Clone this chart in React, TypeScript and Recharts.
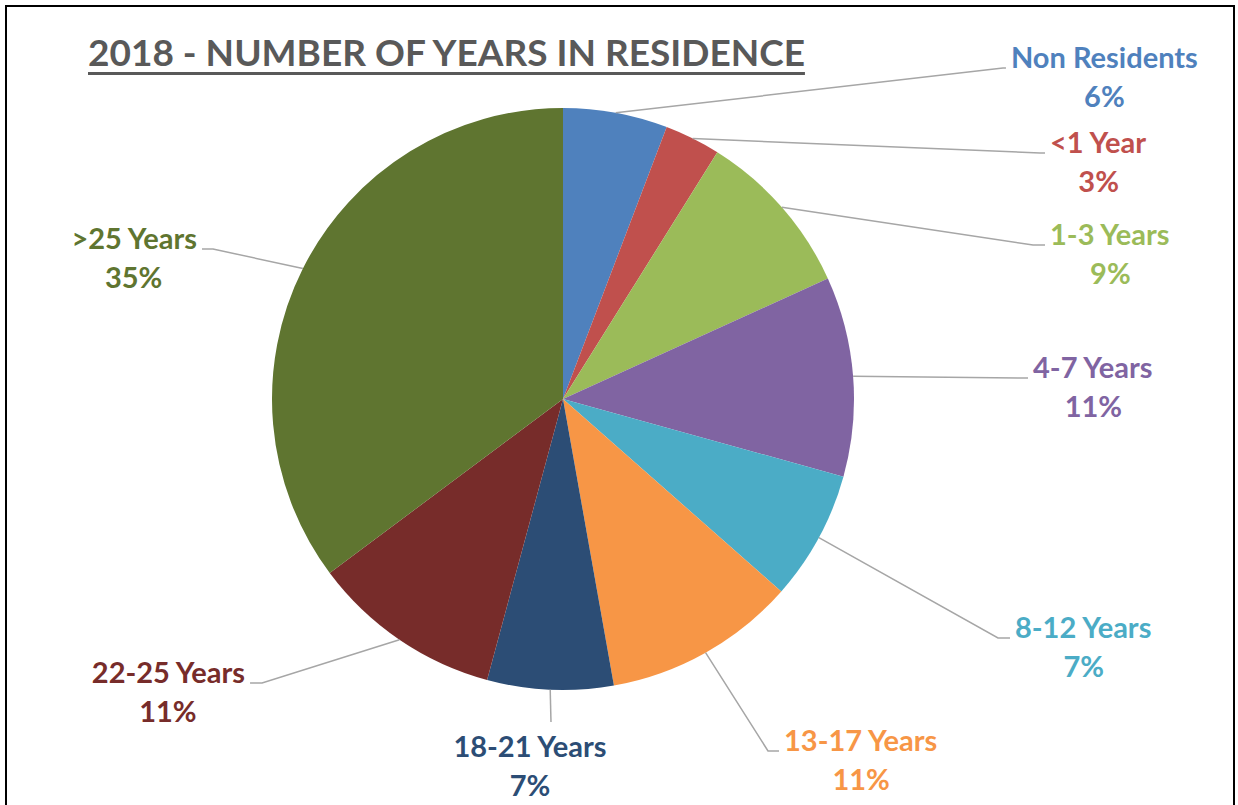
import React from 'react';
import { PieChart, Pie, Cell } from 'recharts';

// ---- data ----
const categories = [
  'Non Residents',
  '<1 Year',
  '1-3 Years',
  '4-7 Years',
  '8-12 Years',
  '13-17 Years',
  '18-21 Years',
  '22-25 Years',
  '>25 Years',
];
const shares = [5.8, 3.1, 9.3, 11.1, 7.2, 10.7, 7.0, 10.6, 35.2];
const colors = [
  '#4F81BD',
  '#C0504D',
  '#9BBB59',
  '#8064A2',
  '#4BACC6',
  '#F79646',
  '#2C4D75',
  '#772C2A',
  '#5F7530',
];
const title = '2018 - NUMBER OF YEARS IN RESIDENCE';

// ---- label layout (polar position of leader-line elbow) ----
const labelDist = [550.6, 536.7, 494.6, 457.5, 496.3, 407.3, 323.2, 413.8, 380.8];
const labelAngle = [36.96, 27.28, 18.14, 2.63, -28.78, -59.78, -92.13, -136.66, 156.8];
const labelTail = [3, 5, 12, 8, 12, 11, 0, -12, -11];

const tableData = categories.map((name, i) => ({ name, value: shares[i] }));

const LABEL_FONT_SIZE = 29;
const LABEL_FONT = `bold ${LABEL_FONT_SIZE}px Lato`;

let measureCtx: CanvasRenderingContext2D | null = null;
function measure(text: string): number {
  if (!measureCtx) {
    const c = document.createElement('canvas');
    measureCtx = c.getContext('2d');
  }
  if (!measureCtx) return text.length * LABEL_FONT_SIZE * 0.5;
  measureCtx.font = LABEL_FONT;
  return measureCtx.measureText(text).width;
}

const RAD = Math.PI / 180;

const renderLabel = (props: any) => {
  const { cx, cy, midAngle, outerRadius, index, percent } = props;
  const sx = cx + outerRadius * Math.cos(-midAngle * RAD);
  const sy = cy + outerRadius * Math.sin(-midAngle * RAD);
  const ex = cx + labelDist[index] * Math.cos(-labelAngle[index] * RAD);
  const ey = cy + labelDist[index] * Math.sin(-labelAngle[index] * RAD);
  const tail = labelTail[index];
  const tx = ex + tail;
  const name = categories[index];
  const pct = `${Math.round(percent * 100)}%`;
  const w = measure(name);
  const color = colors[index];
  const gap = 5;
  let nameX: number;
  let anchor: 'start' | 'end' | 'middle';
  let centerX: number;
  let base: number;
  if (tail > 0) {
    nameX = tx + gap;
    anchor = 'start';
    centerX = nameX + w / 2;
    base = ey;
  } else if (tail < 0) {
    nameX = tx - gap;
    anchor = 'end';
    centerX = nameX - w / 2;
    base = ey;
  } else {
    centerX = ex - 21;
    nameX = centerX;
    anchor = 'middle';
    base = ey + 35;
  }
  const points = tail !== 0 ? `${sx},${sy} ${ex},${ey} ${tx},${ey}` : `${sx},${sy} ${ex},${ey}`;
  return (
    <g key={`lbl-${index}`}>
      <polyline points={points} fill="none" stroke="#A6A6A6" strokeWidth={1.5} />
      <text
        x={nameX}
        y={base}
        textAnchor={anchor}
        fill={color}
        fontFamily="Lato, 'Open Sans', sans-serif"
        fontWeight="bold"
        fontSize={LABEL_FONT_SIZE}
      >
        {name}
      </text>
      <text
        x={centerX}
        y={base + 39}
        textAnchor="middle"
        fill={color}
        fontFamily="Lato, 'Open Sans', sans-serif"
        fontWeight="bold"
        fontSize={LABEL_FONT_SIZE}
      >
        {pct}
      </text>
    </g>
  );
};

export default function App() {
  return (
    <div
      style={{
        position: 'absolute',
        left: 0,
        top: 0,
        width: 1238,
        height: 805,
        overflow: 'hidden',
        background: '#fff',
      }}
    >
      <style>{`.recharts-pie-sectors{filter:drop-shadow(0px 0px 3px rgba(0,0,0,0.3));}`}</style>
      <div
        style={{
          position: 'absolute',
          left: 5,
          top: 5,
          width: 1230,
          height: 830,
          border: '2px solid #000',
          boxSizing: 'border-box',
        }}
      />
      <div
        style={{
          position: 'absolute',
          left: 88,
          top: 33,
          fontFamily: "Lato, 'Open Sans', sans-serif",
          fontWeight: 'bold',
          fontSize: 37,
          lineHeight: 1,
          color: '#595959',
          whiteSpace: 'nowrap',
          textDecoration: 'underline',
          textDecorationThickness: '2.5px',
          textUnderlineOffset: '6px',
        }}
      >
        {title}
      </div>
      <div style={{ position: 'absolute', left: 0, top: 0 }}>
        <PieChart width={1238} height={805} margin={{ top: 0, right: 0, bottom: 0, left: 0 }}>
          <Pie
            data={tableData}
            dataKey="value"
            nameKey="name"
            cx={563}
            cy={399}
            outerRadius={291}
            startAngle={90}
            endAngle={-270}
            stroke="none"
            label={renderLabel}
            labelLine={false}
            isAnimationActive={false}
          >
            {tableData.map((d, i) => (
              <Cell key={d.name} fill={colors[i]} />
            ))}
          </Pie>
        </PieChart>
      </div>
    </div>
  );
}
